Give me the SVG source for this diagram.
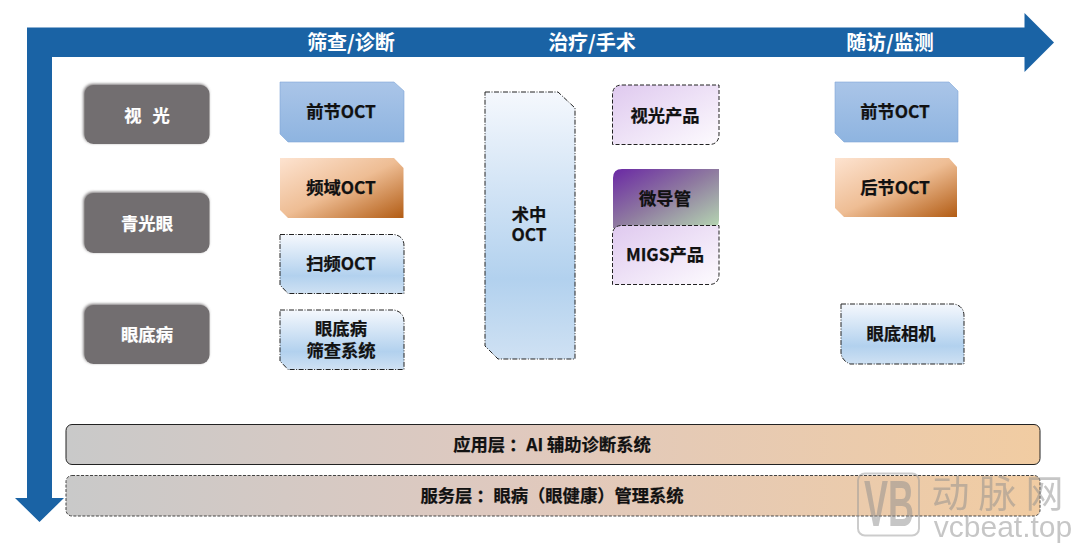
<svg xmlns="http://www.w3.org/2000/svg" width="1080" height="546" viewBox="0 0 1080 546">
<style>
text{font-family:"Noto Sans CJK SC","Noto Sans",sans-serif;font-weight:700;text-anchor:middle;font-size:17.3px;fill:#111;stroke:#111;stroke-width:.25}
.head{font-size:20px;fill:#fff;stroke:none}
.w{fill:#fff;stroke:#fff}
.dash{stroke:#222;stroke-width:1;stroke-dasharray:4 2}
.dashd{stroke:#222;stroke-width:1;stroke-dasharray:5 1.5 1 1.5}
.gray{fill:#726e6f;filter:url(#sh)}
.mark{fill:#8f8f8f;font-weight:400;stroke:none}
</style>
<defs>
<linearGradient id="blue" x1="0" y1="0" x2="0" y2="1"><stop offset="0" stop-color="#aac5e8"/><stop offset="1" stop-color="#8eb4e0"/></linearGradient>
<linearGradient id="orange" x1="0" y1="0" x2="1" y2="1"><stop offset="0" stop-color="#fde3d0"/><stop offset=".5" stop-color="#eebd94"/><stop offset="1" stop-color="#b25c14"/></linearGradient>
<linearGradient id="pale" x1="0" y1="0" x2="0" y2="1"><stop offset="0" stop-color="#f5f8fd"/><stop offset=".7" stop-color="#b2d1ee"/><stop offset="1" stop-color="#cfe1f3"/></linearGradient>
<linearGradient id="pink" x1="0" y1="0" x2="1" y2="1"><stop offset="0" stop-color="#dfc9ef"/><stop offset="1" stop-color="#fdfbfe"/></linearGradient>
<linearGradient id="violet" x1="0" y1="0" x2="1" y2="1"><stop offset="0" stop-color="#6a28a4"/><stop offset=".5" stop-color="#8f7ba0"/><stop offset="1" stop-color="#b6d8b2"/></linearGradient>
<linearGradient id="bar" x1="0" y1="0" x2="1" y2="0"><stop offset="0" stop-color="#c9c9c9"/><stop offset=".45" stop-color="#dfc9bf"/><stop offset="1" stop-color="#f1cca2"/></linearGradient>
<filter id="sh" x="-10%" y="-15%" width="120%" height="130%"><feGaussianBlur in="SourceGraphic" stdDeviation="1.6" result="b"/><feOffset in="b" dx="-1" dy="-1.5" result="o"/><feMerge><feMergeNode in="o"/><feMergeNode in="SourceGraphic"/></feMerge></filter>
</defs>
<rect width="1080" height="546" fill="#fff"/>
<g id="connectors" fill="#1a63a5">
<polygon points="27,27.5 1024.5,27.5 1024.5,13 1054,42.5 1024.5,72 1024.5,57 52,57 52,498 64,498 39.5,522 15,498 27,498"/>
</g>
<g id="stage-headers">
<text class="head" x="351" y="50">筛查/诊断</text>
<text class="head" x="592" y="50">治疗/手术</text>
<text class="head" x="890" y="50">随访/监测</text>
</g>
<g id="disease-vision"><rect class="gray" x="84.500" y="85" width="125" height="59" rx="9"/><text class="w" x="147" y="122" style="word-spacing:7px">视 光</text></g>
<g id="disease-glaucoma"><rect class="gray" x="84.500" y="193" width="125" height="60" rx="9"/><text class="w" x="147" y="230">青光眼</text></g>
<g id="disease-fundus"><rect class="gray" x="84.500" y="305" width="125" height="59" rx="9"/><text class="w" x="147" y="341">眼底病</text></g>
<g id="screen-anterior"><polygon points="280,82 394,82 404,91 404,142 288,142 280,134" fill="url(#blue)" stroke="#7fa6d6" stroke-width=".6"/><text x="341" y="118">前节OCT</text></g>
<g id="screen-sd"><polygon points="280,158 394,158 403.500,168 403.500,218 288,218 280,210" fill="url(#orange)"/><text x="341" y="194">频域OCT</text></g>
<g id="screen-ss"><path d="M280,234.500H394Q404,236 404,246V293.500H288L280,285Z" fill="url(#pale)" class="dashd"/><text x="341" y="270">扫频OCT</text></g>
<g id="screen-fundus"><path d="M280,310H394Q404,312 404,322V369.500H288L280,361Z" fill="url(#pale)" class="dashd"/><text x="341" y="335">眼底病</text><text x="341" y="357">筛查系统</text></g>
<g id="treat-intraop"><path d="M485,92H558L575,108V359H498L485,346Z" fill="url(#pale)" class="dashd"/><text x="529" y="221">术中</text><text x="529" y="241">OCT</text></g>
<g id="treat-vision"><path d="M622,85H719V134Q719,144.500 709,144.500H612.500V95Q612.500,85 622,85Z" fill="url(#pink)" class="dash"/><text x="665" y="122">视光产品</text></g>
<g id="treat-micro"><path d="M622,169H719V220Q719,228 711,228H613V178Q613,169 622,169Z" fill="url(#violet)"/><text x="665" y="205">微导管</text></g>
<g id="treat-migs"><path d="M622,225.500H719V274Q719,284.500 709,284.500H612.500V235Q612.500,225.500 622,225.500Z" fill="url(#pink)" class="dash"/><text x="665" y="261">MIGS产品</text></g>
<g id="follow-anterior"><polygon points="835,82 949,82 958,91 958,142 844,142 835,133" fill="url(#blue)" stroke="#7fa6d6" stroke-width=".6"/><text x="895" y="118">前节OCT</text></g>
<g id="follow-posterior"><polygon points="835,158 949,158 957,167 957,217 844,217 835,208" fill="url(#orange)"/><text x="895" y="194">后节OCT</text></g>
<g id="follow-camera"><path d="M841,304H954Q964,306 964,316V364H850Q841,360 841,352Z" fill="url(#pale)" class="dashd"/><text x="901" y="340">眼底相机</text></g>
<g id="layer-application"><rect x="66" y="424.500" width="974" height="40" rx="6" fill="url(#bar)" stroke="#222" stroke-width="1"/><text x="552" y="451">应用层 ：AI 辅助诊断系统</text></g>
<g id="layer-service"><rect x="66" y="475.500" width="974" height="40.500" rx="6" fill="url(#bar)" stroke="#444" stroke-width="1" stroke-dasharray="3 1.500"/><text x="552" y="502">服务层 ：眼病（眼健康）管理系统</text></g>
<g id="watermark" opacity=".5">
<rect x="858" y="473.500" width="61" height="62" rx="7" fill="none" stroke="#9a9a9a" stroke-width="2"/>
<text class="mark" x="889" y="526" textLength="50" lengthAdjust="spacingAndGlyphs" style="font-size:64px;font-family:'Liberation Sans',sans-serif;font-weight:700">VB</text>
<text class="mark" x="1002" y="507" style="font-size:38px;letter-spacing:9px">动脉网</text>
<text class="mark" x="1003" y="537" style="font-size:30px;font-family:'Liberation Sans',sans-serif">vcbeat.top</text>
</g>
</svg>
